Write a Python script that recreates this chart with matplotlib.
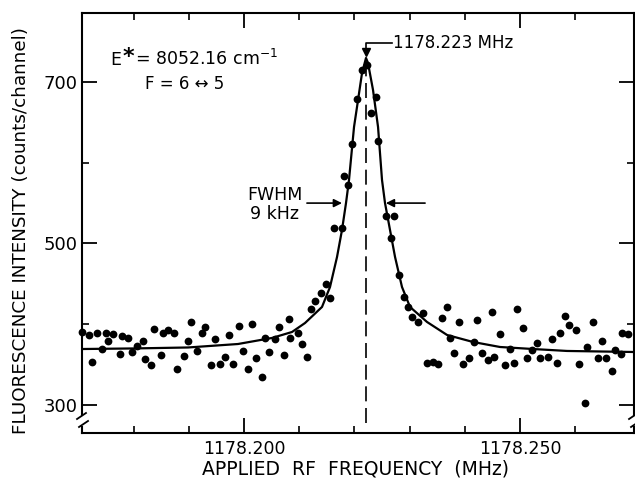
import numpy as np
import matplotlib.pyplot as plt
from matplotlib.ticker import FixedLocator, FormatStrFormatter

# data points: offset from 1178.200 MHz (kHz) and counts/channel
offset_khz = [-29.35, -28.08, -27.54, -26.63, -25.72, -25.00, -24.64, -23.73, -22.46, -22.10,
              -21.01, -20.29, -19.38, -18.30, -17.93, -16.85, -16.30, -15.04, -14.67, -13.77,
              -12.68, -12.14, -10.87, -10.14, -9.60, -8.51, -7.61, -7.07, -5.98, -5.25,
              -4.35, -3.44, -2.72, -1.99, -0.91, -0.18, 0.72, 1.45, 2.17, 3.26,
              3.80, 4.53, 5.62, 6.34, 7.25, 8.15, 8.33, 9.78, 10.51, 11.41,
              12.14, 12.86, 13.95, 14.86, 15.58, 16.30, 17.75, 18.12, 18.84, 19.57,
              20.47, 21.38, 22.28, 23.01, 23.91, 24.28, 25.72, 26.63, 27.17, 28.08,
              28.99, 29.71, 30.43, 31.52, 32.43, 33.06, 34.24, 35.14, 35.87, 36.78,
              37.32, 38.04, 38.95, 39.67, 40.76, 41.67, 42.21, 43.12, 44.20, 44.93,
              45.29, 46.38, 47.28, 48.19, 48.91, 49.46, 50.54, 51.27, 52.17, 53.08,
              53.62, 55.07, 55.80, 56.70, 57.25, 58.15, 58.88, 60.14, 60.69, 61.78,
              62.14, 63.22, 64.13, 64.86, 65.58, 66.67, 67.21, 68.30, 68.48, 69.57]
counts = [390.4, 386.7, 353.2, 389.2, 369.3, 389.2, 378.7, 387.9, 363.2, 385.4,
          383.0, 365.6, 373.1, 379.3, 357.0, 349.5, 394.1, 361.9, 389.2, 392.9,
          389.2, 344.6, 360.7, 379.3, 402.8, 366.9, 389.2, 396.6, 349.5, 381.7,
          350.8, 359.4, 386.7, 350.8, 397.8, 366.9, 344.6, 400.3, 358.2, 334.7,
          383.0, 365.6, 381.7, 396.6, 361.9, 406.5, 383.0, 389.2, 375.5, 359.4,
          418.9, 428.8, 439.0, 449.8, 432.5, 519.2, 519.2, 583.6, 572.4, 623.2,
          678.9, 714.9, 721.1, 661.6, 681.4, 626.9, 534.1, 506.8, 534.1, 461.0,
          433.7, 421.4, 409.0, 402.8, 413.9, 352.0, 353.2, 350.8, 407.7, 421.4,
          383.0, 364.4, 402.8, 350.8, 358.2, 378.0, 405.3, 364.4, 355.7, 415.2,
          359.4, 387.9, 349.5, 369.3, 352.0, 418.9, 395.4, 358.2, 368.1, 376.8,
          358.2, 359.4, 381.7, 352.0, 389.2, 410.2, 399.1, 392.9, 350.8, 302.5,
          371.8, 402.8, 358.2, 379.3, 358.2, 341.5, 368.1, 363.2, 389.2, 387.9]

# fitted line
fit_khz = [-29.35, -20.11, -10.14, -1.09, 5.07, 8.70, 11.05, 14.13, 15.58, 16.85,
           17.75, 18.48, 19.02, 19.93, 20.47, 21.38, 22.10, 22.46, 23.37, 24.28,
           25.00, 25.54, 26.45, 27.36, 28.62, 30.07, 33.15, 36.78, 41.49, 46.38,
           52.36, 58.51, 70.65]
fit_counts = [369.3, 370.0, 371.2, 375.5, 383.0, 390.4, 401.5, 421.4, 446.1, 483.3,
              516.7, 550.2, 578.6, 644.3, 669.0, 711.1, 729.7, 723.5, 690.1, 644.3,
              578.6, 550.2, 516.7, 483.3, 446.1, 421.4, 402.8, 386.7, 378.0, 371.8,
              369.3, 366.9, 365.6]

peak_khz = 22.1
fwhm_level = 550

freq = 1178.2 + np.array(offset_khz) / 1000
fit_freq = 1178.2 + np.array(fit_khz) / 1000
f0 = 1178.2 + peak_khz / 1000

fig = plt.figure(figsize=(6.35, 4.83), dpi=100)
ax = fig.add_axes([82/635, 50/483, 552/635, 420/483])

ax.plot(fit_freq, fit_counts, color='k', lw=1.6)
ax.plot(freq, counts, 'o', color='k', ms=5.6, mew=0, clip_on=False)

# dashed line + peak marker
ax.plot([f0, f0], [277.7, 733], color='k', lw=1.2, dashes=(9, 4))
ax.plot(f0, 737, 'v', color='k', ms=6)
ax.plot([f0, f0, 1178.2 + 26.8/1000], [737, 748.3, 748.3], color='k', lw=1.2)
ax.text(1178.2 + 27.0/1000, 748.3, '1178.223 MHz', fontsize=12, va='center')

# FWHM arrows
ax.annotate('', xy=(1178.2 + 17.75/1000, fwhm_level), xytext=(1178.2 + 11.4/1000, fwhm_level),
            arrowprops=dict(arrowstyle='-|>', color='k', lw=1.2, mutation_scale=12,
                            shrinkA=0, shrinkB=0))
ax.annotate('', xy=(1178.2 + 25.7/1000, fwhm_level), xytext=(1178.2 + 32.8/1000, fwhm_level),
            arrowprops=dict(arrowstyle='-|>', color='k', lw=1.2, mutation_scale=12,
                            shrinkA=0, shrinkB=0))
ax.text(0.4004, 0.5548, 'FWHM', transform=ax.transAxes, fontsize=12.5, ha='right', va='baseline')
ax.text(0.3496, 0.5095, '9 kHz', transform=ax.transAxes, fontsize=12.5, ha='center', va='baseline')

ax.text(0.0507, 0.8762, 'E', transform=ax.transAxes, fontsize=12.5, va='baseline')
ax.text(0.0735, 0.880, '*', transform=ax.transAxes, fontsize=16, fontweight='bold', va='baseline')
ax.text(0.096, 0.8762, r'= 8052.16 cm$^{-1}$', transform=ax.transAxes,
        fontsize=12.5, va='baseline')
ax.text(0.1141, 0.819, 'F = 6 ↔ 5', transform=ax.transAxes, fontsize=12, va='baseline')

ax.set_xlim(1178.17065, 1178.27065)
ax.set_ylim(265.3, 785.4)

ax.xaxis.set_major_locator(FixedLocator([1178.2, 1178.25]))
ax.xaxis.set_minor_locator(FixedLocator([1178.18, 1178.19, 1178.21, 1178.22, 1178.23,
                                         1178.24, 1178.26]))
ax.xaxis.set_major_formatter(FormatStrFormatter('%.3f'))
ax.yaxis.set_major_locator(FixedLocator([300, 500, 700]))
ax.yaxis.set_minor_locator(FixedLocator([400, 600]))

ax.tick_params(which='major', direction='in', length=10.8, width=1.3, top=True, right=True,
               labelsize=12.5, pad=5)
ax.tick_params(which='minor', direction='in', length=5, width=1.2, top=True, right=True)
ax.tick_params(axis='y', labelsize=13, pad=3)

for s in ax.spines.values():
    s.set_linewidth(1.5)

# axis break on both vertical spines
ax.spines['left'].set_bounds(287.6, 785.4)
ax.spines['right'].set_bounds(287.6, 785.4)
for x0 in (0, 1):
    ax.plot([x0, x0], [0, 0.0143], transform=ax.transAxes, color='k', lw=1.5, clip_on=False)
    ax.plot([x0 - 0.009, x0 + 0.0072], [0.0333, 0.0476], transform=ax.transAxes,
            color='k', lw=1.3, clip_on=False)
    ax.plot([x0 - 0.0054, x0 + 0.0109], [0.0143, 0.0286], transform=ax.transAxes,
            color='k', lw=1.3, clip_on=False)

ax.set_xlabel('APPLIED  RF  FREQUENCY  (MHz)', fontsize=13.5)
ax.xaxis.set_label_coords(0.4946, -0.062)
ax.set_ylabel('FLUORESCENCE INTENSITY (counts/channel)', fontsize=13.2)
ax.yaxis.set_label_coords(-0.094, 0.483)

fig.savefig('out.png', dpi=100)
